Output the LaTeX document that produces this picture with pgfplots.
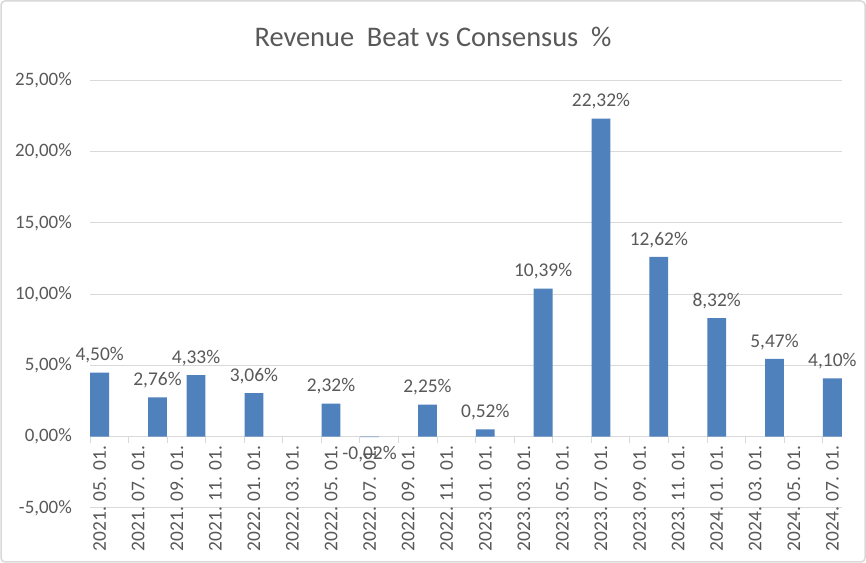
\documentclass[border=0pt]{standalone}
\usepackage{pgfplots}
\pgfplotsset{compat=1.18}
\usepackage{fontspec}
\setmainfont{Carlito}
\definecolor{txt}{HTML}{595959}
\definecolor{grd}{HTML}{D9D9D9}
\definecolor{barc}{HTML}{4F81BD}
\begin{document}
\begin{tikzpicture}[x=1bp,y=1bp]
\fill[white] (0,0) rectangle (866,563);
\draw[grd, line width=1.5bp, rounded corners=4bp] (1,1) rectangle (865,562);
\node[txt, font=\fontsize{28.5}{32}\selectfont, anchor=base] at (433,516) {Revenue\hspace{0.45em}Beat vs Consensus\hspace{0.45em}\%};
\begin{axis}[
  at={(90bp,55bp)}, anchor=south west,
  scale only axis, width=752bp, height=427.5bp,
  xmin=-0.5, xmax=38.5, ymin=-5, ymax=25,
  axis x line*=middle, axis y line*=left,
  y axis line style={draw=none},
  x axis line style={grd, line width=1bp},
  ymajorgrids, grid style={grd, line width=1bp},
  ytick={-5,0,...,25},
  ytick style={draw=none},
  /pgf/number format/assume math mode=true,
  yticklabel={\pgfmathprintnumber[fixed,fixed zerofill,precision=2,use comma]{\tick}\%},
  yticklabel style={txt, font=\fontsize{19}{21}\selectfont, anchor=east, inner sep=0pt, xshift=-12bp},
  xtick={0,2,...,38},
  xticklabels={2021. 05. 01., 2021. 07. 01., 2021. 09. 01., 2021. 11. 01., 2022. 01. 01., 2022. 03. 01., 2022. 05. 01., 2022. 07. 01., 2022. 09. 01., 2022. 11. 01., 2023. 01. 01., 2023. 03. 01., 2023. 05. 01., 2023. 07. 01., 2023. 09. 01., 2023. 11. 01., 2024. 01. 01., 2024. 03. 01., 2024. 05. 01., 2024. 07. 01.},
  xticklabel style={txt, font=\fontsize{19.5}{21}\selectfont, rotate=90, anchor=east, inner sep=0pt, xshift=-3bp},
  xtick style={draw=none},
  tick align=outside, major tick length=6bp,
  extra x ticks={-0.5,1.5,...,38.5},
  extra x tick labels={},
  extra x tick style={xtick style={draw=grd, line width=1bp}},
  ybar, bar width=18.8bp,
  nodes near coords={\pgfmathprintnumber[fixed,fixed zerofill,precision=2,use comma]{\pgfplotspointmeta}\%},
  nodes near coords style={txt, font=\fontsize{19.5}{21}\selectfont, inner sep=9bp},
  clip=false,
]
\addplot[fill=barc, draw=none] coordinates {
 (0,4.50) (3,2.76) (5,4.33) (8,3.06) (12,2.32) (14,-0.02) (17,2.25)
 (20,0.52) (23,10.39) (26,22.32) (29,12.62) (32,8.32) (35,5.47) (38,4.10)
};
\end{axis}
\end{tikzpicture}
\end{document}
